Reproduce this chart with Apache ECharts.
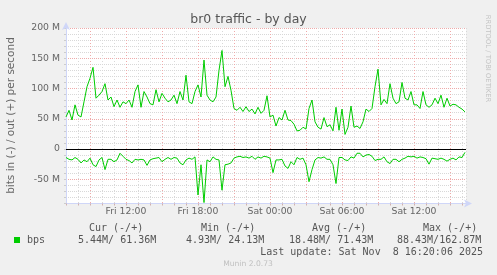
<!DOCTYPE html>
<html><head><meta charset="utf-8">
<script src="https://cdn.jsdelivr.net/npm/echarts@6/dist/echarts.min.js"></script>
<style>html,body{margin:0;padding:0;background:#F0F0F0;}#c{width:497px;height:275px;}</style>
</head><body><div id="c"></div>
<script>
// ---- data (minutes from Fri 07:00, 15-min samples, values in Mbit/s) ----
const stepMinutes = 15;
const spanMinutes = 2000;
const outValues = [
 53,64,48,73,56,53,78,103,117,135,84,89,95,108,81,86,70,81,69,78,75,81,69,95,106,69,95,86,75,73,98,78,92,84,
 78,81,89,75,95,81,122,78,75,95,106,86,147,89,81,78,86,130,162.87,103,120,97,67,64,69,62,70,62,66,58,69,59,
 64,88,53,56,38,52,48,64,48,47,41,30,31,36,33,67,81,45,36,33,52,37,40,30,69,31,66,24.13,36,71,36,38,34,45,
 66,62,67,103,132,73,82,75,108,84,75,78,110,84,81,95,73,73,67,95,73,69,73,84,75,89,69,84,71,74,73,69,66,61.36
];
const inValues = [
 -14,-17,-18,-14,-17,-23,-18,-21,-15,-26,-29,-18,-14,-34,-17,-17,-21,-18,-7,-12,-17,-19,-23,-17,-18,-17,-18,-27,-18,-16,-15,-14,-21,-17,
 -14,-17,-14,-15,-23,-26,-18,-15,-17,-13,-76,-26,-88.43,-18,-21,-13,-17,-18,-68,-26,-25,-23,-15,-13,-12,-14,-13,-15,-12,-17,-13,-15,
 -12,-13,-15,-39,-18,-18,-17,-28,-32,-21,-26,-14,-17,-15,-26,-54,-34,-18,-14,-15,-13,-17,-17,-26,-57,-14,-14,-18,-19,-13,-15,-7,-7,-13,
 -10,-9,-12,-19,-17,-17,-13,-21,-24,-17,-17,-21,-17,-15,-12,-13,-12,-15,-13,-14,-16,-25,-15,-16,-17,-15,-17,-20,-17,-15,-18,-13,-14,-5.44
];
const xTickMinutes = [300, 660, 1020, 1380, 1740];
const xTickText = ['Fri 12:00', 'Fri 18:00', 'Sat 00:00', 'Sat 06:00', 'Sat 12:00'];
const yTickValues = [-50, 0, 50, 100, 150, 200];
const yTickText = ['-50 M', '0', '50 M', '100 M', '150 M', '200 M'];
const legendHeaders = ['Cur (-/+)', 'Min (-/+)', 'Avg (-/+)', 'Max (-/+)'];
const legendValues = ['5.44M/ 61.36M', '4.93M/ 24.13M', '18.48M/ 71.43M', '88.43M/162.87M'];
const seriesName = 'bps';
const titleText = 'br0 traffic - by day';
const yTitle = 'bits in (-) / out (+) per second';
const lastUpdate = 'Last update: Sat Nov  8 16:20:06 2025';
const footer = 'Munin 2.0.73';
const sideText = 'RRDTOOL / TOBI OETIKER';

// ---- chart ----
const outData = outValues.map((v, i) => [i * stepMinutes, v]);
const inData = inValues.map((v, i) => [i * stepMinutes, v]);
const MINOR = '#d8d8d8', MAJOR = '#eeaaaa', AXIS = '#CFD6F8', FONT = '#666666', GREEN = '#00CC00';
const sans = 'DejaVu Sans';

const legendHeaderX = [89, 201, 312, 423];
const legendValueX = [78, 186, 289, 397];

const graphics = [
  {type:'text', x:248.5, y:19.5, style:{text:titleText, font:'12.5px "DejaVu Sans"', fill:'#555', align:'center', verticalAlign:'middle', textAlign:'center', textVerticalAlign:'middle'}},
  {type:'text', x:11, y:115.5, rotation:Math.PI/2, style:{text:yTitle, font:'10.5px "DejaVu Sans"', fill:FONT, align:'center', verticalAlign:'middle', textAlign:'center', textVerticalAlign:'middle'}},
  {type:'text', x:488, y:58.5, rotation:-Math.PI/2, style:{text:sideText, font:'6.8px "DejaVu Sans"', fill:'#c4c4c4', align:'center', verticalAlign:'middle', textAlign:'center', textVerticalAlign:'middle'}},
  {type:'rect', shape:{x:14, y:237, width:6, height:6}, style:{fill:GREEN}},
  {type:'text', x:27, y:240.5, style:{text:seriesName, font:'10px "DejaVu Sans Mono"', fill:'#555', verticalAlign:'middle', textVerticalAlign:'middle'}},
  {type:'text', x:483, y:252, style:{text:lastUpdate, font:'10px "DejaVu Sans Mono"', fill:'#555', align:'right', verticalAlign:'middle', textAlign:'right', textVerticalAlign:'middle'}},
  {type:'text', x:248, y:264, style:{text:footer, font:'7.6px "DejaVu Sans"', fill:'#c0c0c0', align:'center', verticalAlign:'middle', textAlign:'center', textVerticalAlign:'middle'}}
];
legendHeaders.forEach((t, k) => graphics.push({type:'text', x:legendHeaderX[k], y:228, style:{text:t, font:'10px "DejaVu Sans Mono"', fill:'#555', verticalAlign:'middle', textVerticalAlign:'middle'}}));
legendValues.forEach((t, k) => graphics.push({type:'text', x:legendValueX[k], y:240.5, style:{text:t, font:'10px "DejaVu Sans Mono"', fill:'#555', verticalAlign:'middle', textVerticalAlign:'middle'}}));

const chart = echarts.init(document.getElementById('c'), null, {renderer:'canvas', width:497, height:275});
chart.setOption({
  backgroundColor:'#F0F0F0',
  animation:false,
  grid:{left:66, top:28, width:400, height:175.5, show:true, backgroundColor:'#ffffff', borderWidth:0, containLabel:false, outerBoundsMode:'none'},
  xAxis:{type:'value', min:0, max:spanMinutes, interval:60,
    axisLine:{show:true, onZero:false, lineStyle:{color:AXIS, width:1}, symbol:['none','arrow'], symbolSize:[6,8], symbolOffset:[0,6]},
    axisTick:{show:true, length:2, lineStyle:{color:'#d0b0b0'}},
    axisLabel:{formatter:v => { const k = xTickMinutes.indexOf(v); return k >= 0 ? xTickText[k] : ''; }, color:FONT, fontFamily:sans, fontSize:9.3, margin:4, hideOverlap:false},
    splitLine:{show:true, lineStyle:{color:[MINOR, MINOR, MAJOR], type:[1,2], width:1}}
  },
  yAxis:{type:'value', min:-90, max:200, interval:10,
    axisLine:{show:true, onZero:false, lineStyle:{color:AXIS, width:1}, symbol:['none','arrow'], symbolSize:[6,8], symbolOffset:[0,6]},
    axisTick:{show:true, length:2, lineStyle:{color:'#cccccc'}},
    axisLabel:{formatter:v => { const k = yTickValues.indexOf(v); return k >= 0 ? yTickText[k] : ''; }, color:FONT, fontFamily:sans, fontSize:9.3, margin:6, hideOverlap:false},
    splitLine:{show:true, lineStyle:{color:[MINOR, MINOR, MINOR, MINOR, MAJOR], type:[1,1], width:1}}
  },
  series:[
    {type:'line', name:'out', data:outData, symbol:'none', showSymbol:false, lineStyle:{color:GREEN, width:1}, itemStyle:{color:GREEN}, z:3,
     markLine:{silent:true, symbol:['none','none'], label:{show:false}, lineStyle:{color:'#000', type:'solid', width:1}, data:[{yAxis:0}]}},
    {type:'line', name:'in', data:inData, symbol:'none', showSymbol:false, lineStyle:{color:GREEN, width:1}, itemStyle:{color:GREEN}, z:3}
  ],
  graphic:graphics
});
</script></body></html>
